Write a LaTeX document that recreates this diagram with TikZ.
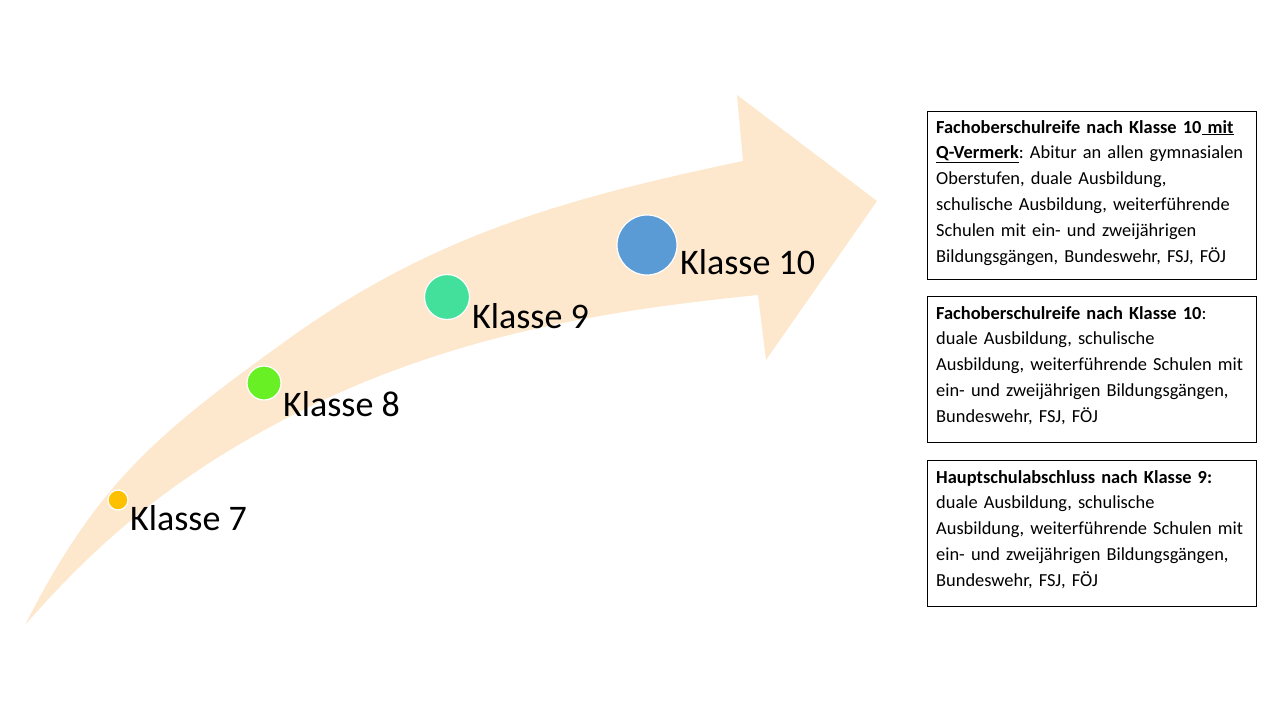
\documentclass[tikz,border=0pt]{standalone}
\usepackage{fontspec}
\setmainfont{Carlito}
\definecolor{arrowpeach}{RGB}{253,232,206}
\definecolor{dotseven}{RGB}{255,192,0}
\definecolor{doteight}{RGB}{104,240,36}
\definecolor{dotnine}{RGB}{67,224,155}
\definecolor{dotten}{RGB}{91,155,213}
\tikzset{
  dot/.style={circle, draw=white, line width=1.2pt, inner sep=0pt},
  klabel/.style={anchor=base west, inner sep=0pt, font=\fontsize{36}{40}\selectfont},
  infobox/.style={draw=black, line width=1pt, anchor=north west, inner sep=0pt, minimum width=329pt},
  infotext/.style={anchor=base west, inner sep=0pt, text width=322pt, align=left, font=\fontsize{18.4}{25.8}\selectfont\frenchspacing}
}
\begin{document}
\frenchspacing
\begin{tikzpicture}[x=1pt, y=-1pt]
\useasboundingbox (0,0) rectangle (1280,720);
% curved arrow
\fill[arrowpeach] (25,625)
  .. controls (97.6,482.4) and (157.2,433.6) .. (287,340)
  .. controls (433,234.7) and (567,198) .. (743,161)
  -- (737,95) -- (877,201) -- (766,360) -- (758,295)
  .. controls (588.9,312) and (437.8,339.5) .. (287,418)
  .. controls (180.6,473.4) and (104,534.6) .. (25,625)
  -- cycle;
% dots
\node[dot, fill=dotseven, minimum size=20pt] (c7) at (118,500) {};
\node[dot, fill=doteight, minimum size=34pt] (c8) at (264,383) {};
\node[dot, fill=dotnine, minimum size=45pt] (c9) at (447,297) {};
\node[dot, fill=dotten, minimum size=60pt] (c10) at (647,245) {};
% labels
\node[klabel] (l7) at (130,530) {Klasse 7};
\node[klabel] (l8) at (283,416) {Klasse 8};
\node[klabel] (l9) at (472,328) {Klasse 9};
\node[klabel] (l10) at (680,274) {Klasse 10};
% boxes
\node[infobox, minimum height=168pt] (b1) at (927,111) {};
\node[infobox, minimum height=146pt] (b2) at (927,296) {};
\node[infobox, minimum height=146pt] (b3) at (927,460) {};
\node[infotext] (t1) at (936,133) {\textbf{Fachoberschulreife nach Klasse 10\underline{\ mit}}\\
\textbf{\underline{Q-Vermerk}}: Abitur an allen gymnasialen\\
Oberstufen, duale Ausbildung,\\
schulische Ausbildung, weiterführende\\
Schulen mit ein- und zweijährigen\\
Bildungsgängen, Bundeswehr, FSJ, FÖJ};
\node[infotext] (t2) at (936,319) {\textbf{Fachoberschulreife nach Klasse 10}:\\
duale Ausbildung, schulische\\
Ausbildung, weiterführende Schulen mit\\
ein- und zweijährigen Bildungsgängen,\\
Bundeswehr, FSJ, FÖJ};
\node[infotext] (t3) at (936,483) {\textbf{Hauptschulabschluss nach Klasse 9:}\\
duale Ausbildung, schulische\\
Ausbildung, weiterführende Schulen mit\\
ein- und zweijährigen Bildungsgängen,\\
Bundeswehr, FSJ, FÖJ};
\end{tikzpicture}
\end{document}
